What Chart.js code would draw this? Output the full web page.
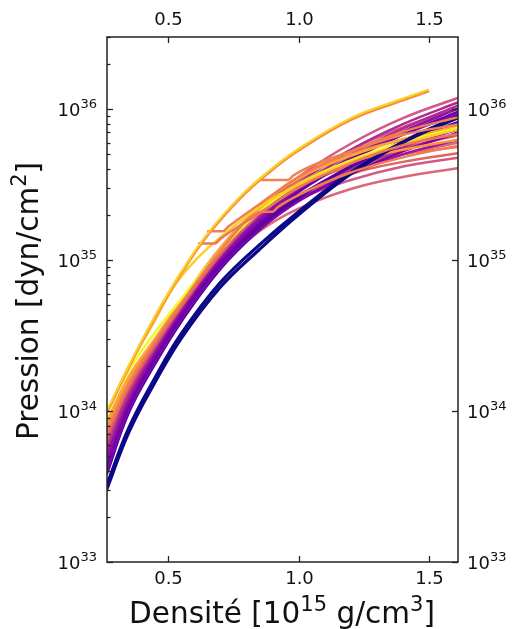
<!DOCTYPE html>
<html>
<head>
<meta charset="utf-8">
<script src="https://cdn.jsdelivr.net/npm/chart.js@4.4.1/dist/chart.umd.min.js"></script>
<style>
  html, body { margin: 0; padding: 0; background: #fff; }
  #wrap { width: 512px; height: 629px; }
</style>
</head>
<body>
<div id="wrap"><canvas id="eos" width="512" height="629"></canvas></div>
<script>
// densite en 10^15 g/cm3 ; pression en log10(dyn/cm2)
const density = [0.265, 0.35, 0.45, 0.55, 0.70, 0.85, 1.00, 1.20, 1.40, 1.62];

const navyCurves = [
    [33.48, 33.86, 34.19, 34.48, 34.82, 35.07, 35.30, 35.57, 35.78, 35.96],
    [33.51, 33.89, 34.22, 34.51, 34.85, 35.10, 35.32, 35.58, 35.78, 35.95]
];
const darkPurpleCurves = [
    [33.58, 33.99, 34.31, 34.59, 34.94, 35.20, 35.41, 35.62, 35.79, 35.96],
    [33.61, 34.01, 34.33, 34.61, 34.96, 35.22, 35.42, 35.62, 35.78, 35.92],
    [33.63, 34.03, 34.35, 34.63, 34.98, 35.24, 35.45, 35.66, 35.83, 35.99],
    [33.60, 34.00, 34.32, 34.60, 34.95, 35.20, 35.39, 35.57, 35.72, 35.85]
];
const purpleCurves = [
    [33.65, 34.04, 34.35, 34.63, 34.98, 35.25, 35.46, 35.68, 35.85, 36.01],
    [33.68, 34.05, 34.36, 34.63, 34.97, 35.23, 35.42, 35.61, 35.75, 35.87],
    [33.70, 34.07, 34.38, 34.65, 35.00, 35.27, 35.47, 35.67, 35.83, 35.97],
    [33.64, 34.03, 34.34, 34.62, 34.96, 35.21, 35.40, 35.57, 35.70, 35.80]
];
const magentaCurves = [
    [33.72, 34.09, 34.39, 34.65, 35.00, 35.27, 35.49, 35.70, 35.87, 36.03],
    [33.70, 34.07, 34.37, 34.63, 34.97, 35.23, 35.42, 35.60, 35.73, 35.84],
    [33.75, 34.11, 34.40, 34.66, 35.01, 35.29, 35.51, 35.73, 35.90, 36.05]
];
const pinkCurves = [
    [33.78, 34.13, 34.42, 34.68, 35.03, 35.32, 35.55, 35.77, 35.94, 36.08],
    [33.76, 34.12, 34.41, 34.66, 35.00, 35.25, 35.43, 35.59, 35.70, 35.78],
    [33.80, 34.14, 34.43, 34.68, 35.01, 35.24, 35.40, 35.53, 35.62, 35.68],
    [33.74, 34.10, 34.39, 34.64, 34.96, 35.19, 35.34, 35.47, 35.55, 35.61],
    [33.82, 34.16, 34.44, 34.69, 35.04, 35.32, 35.53, 35.73, 35.88, 36.01],
    [33.77, 34.12, 34.41, 34.66, 35.01, 35.27, 35.47, 35.65, 35.78, 35.90]
];
const coralCurves = [
    [33.84, 34.17, 34.45, 34.70, 35.05, 35.31, 35.48, 35.63, 35.74, 35.83],
    [33.86, 34.19, 34.46, 34.71, 35.06, 35.32, 35.49, 35.62, 35.70, 35.75],
    [33.83, 34.16, 34.44, 34.69, 35.03, 35.27, 35.43, 35.57, 35.65, 35.71]
];
const orangeCurves = [
    [33.88, 34.20, 34.47, 34.72, 35.08, 35.35, 35.55, 35.70, 35.80, 35.88],
    [33.90, 34.21, 34.47, 34.72, 35.07, 35.33, 35.51, 35.65, 35.73, 35.80],
    [33.93, 34.23, 34.48, 34.73, 35.08, 35.35, 35.54, 35.69, 35.80, 35.89]
];
// courbe jaune vif, proche de la courbe rigide a basse densite
const brightYellow = [33.98, 34.27, 34.52, 34.74, 35.06, 35.32, 35.50, 35.66, 35.78, 35.88];
// courbe jaune qui quitte la courbe rigide vers 0.5
const yellowDensity = [0.265, 0.35, 0.45, 0.52, 0.60, 0.70, 0.85, 1.00, 1.20, 1.40, 1.62];
const yellowPress   = [33.99, 34.30, 34.60, 34.82, 34.99, 35.15, 35.35, 35.50, 35.65, 35.77, 35.87];

// courbe la plus rigide (s'arrete a 1.5)
const stiffDensity = [0.265, 0.373, 0.45, 0.546, 0.649, 0.776, 0.879, 0.994, 1.20, 1.40, 1.50];
const stiffYellow  = [34.00, 34.38, 34.63, 34.91, 35.17, 35.42, 35.58, 35.73, 35.94, 36.07, 36.13];
const stiffOrange  = [33.99, 34.37, 34.62, 34.90, 35.16, 35.41, 35.57, 35.72, 35.93, 36.06, 36.12];

// branches avec transition de phase : elles quittent la courbe rigide par un plateau
const pt1Density = [0.85, 0.96, 0.98, 1.20, 1.40, 1.62];
const pt1Press   = [35.53, 35.53, 35.56, 35.72, 35.83, 35.90];
const pt2Density = [0.265, 0.35, 0.45, 0.55, 0.70, 0.864, 0.90, 0.92, 1.00, 1.20, 1.40, 1.62];
const pt2Press   = [33.86, 34.18, 34.46, 34.71, 35.06, 35.32, 35.32, 35.35, 35.43, 35.58, 35.68, 35.76];
const pt3Density = [0.65, 0.71, 0.73, 0.85, 1.00, 1.20, 1.40, 1.62];
const pt3Press   = [35.19, 35.19, 35.22, 35.37, 35.55, 35.72, 35.85, 35.95];
const pt4Density = [0.615, 0.68, 0.70, 0.85, 1.00, 1.20, 1.40, 1.62];
const pt4Press   = [35.11, 35.11, 35.14, 35.31, 35.48, 35.64, 35.76, 35.84];

const xTicks = [0.5, 1.0, 1.5];
const xTickLabels = ['0.5', '1.0', '1.5'];
const yTickExp = [33, 34, 35, 36];

const FONT = '"DejaVu Sans", "Liberation Sans", sans-serif';

function makeSet(xs, logs, color, width, flat) {
    const set = {
        data: xs.map((d, i) => ({ x: d, y: Math.pow(10, logs[i]) })),
        borderColor: color,
        borderWidth: width,
        pointRadius: 0,
        fill: false,
        clip: 0,
        tension: 0.4
    };
    // les plateaux restent plats avec l'interpolation monotone
    if (flat) set.cubicInterpolationMode = 'monotone';
    return set;
}

// ordre de trace : du fond vers le dessus
const layers = [];
const pinkCols = ['rgba(204,71,120,0.9)', 'rgba(216,87,107,0.9)'];
pinkCurves.forEach((c, i) => layers.push(makeSet(density, c, pinkCols[i % 2], 2.5)));
coralCurves.forEach((c, i) => layers.push(makeSet(density, c, i % 2 ? '#e97158' : '#e16462', 2.5)));
magentaCurves.forEach((c, i) => layers.push(makeSet(density, c, i % 2 ? '#bd3786' : '#b12a90', 2.5)));
purpleCurves.forEach((c, i) => layers.push(makeSet(density, c, i % 2 ? '#9c179e' : '#8f0da4', 2.5)));
darkPurpleCurves.forEach((c, i) => layers.push(makeSet(density, c, ['#41049d', '#5302a3', '#6a00a8', '#7e03a8'][i], 2.5)));
orangeCurves.forEach((c, i) => layers.push(makeSet(density, c, ['#f2844b', '#f89540', '#fca636'][i], 2.5)));
layers.push(makeSet(density, brightYellow, '#f0f921', 2.5));
layers.push(makeSet(yellowDensity, yellowPress, '#fcce25', 2.5));
navyCurves.forEach(c => layers.push(makeSet(density, c, '#0d0887', 3.2)));
layers.push(makeSet(pt2Density, pt2Press, '#ee7d50', 2.5, true));
layers.push(makeSet(pt1Density, pt1Press, '#ef8250', 2.5, true));
layers.push(makeSet(pt3Density, pt3Press, '#ee7d50', 2.5, true));
layers.push(makeSet(pt4Density, pt4Press, '#ec7853', 2.5, true));
layers.push(makeSet(stiffDensity, stiffOrange, '#f68f44', 3));
layers.push(makeSet(stiffDensity, stiffYellow, '#fcd225', 2));

// texte avec exposants
function drawRich(ctx, parts, x, y, align, size) {
    const sup = Math.round(size * 0.7);
    let w = 0;
    parts.forEach(([t, s]) => { ctx.font = (s ? sup : size) + 'px ' + FONT; w += ctx.measureText(t).width; });
    let cx = align === 'left' ? x : (align === 'right' ? x - w : x - w / 2);
    ctx.textAlign = 'left';
    ctx.textBaseline = 'alphabetic';
    parts.forEach(([t, s]) => {
        ctx.font = (s ? sup : size) + 'px ' + FONT;
        ctx.fillText(t, cx, s ? y - size * 0.4 : y);
        cx += ctx.measureText(t).width;
    });
}

const axesPlugin = {
    id: 'axesPlugin',
    afterDraw(chart) {
        const { ctx, chartArea: a } = chart;
        const xs = chart.scales.x, ys = chart.scales.y;
        const seg = (x1, y1, x2, y2) => { ctx.beginPath(); ctx.moveTo(x1, y1); ctx.lineTo(x2, y2); ctx.stroke(); };
        ctx.save();
        ctx.strokeStyle = '#222';
        ctx.fillStyle = '#111';
        ctx.lineWidth = 1.5;
        ctx.strokeRect(a.left, a.top, a.right - a.left, a.bottom - a.top);

        ctx.lineWidth = 1.3;
        xTicks.forEach((v, i) => {
            const px = Math.round(xs.getPixelForValue(v)) + 0.5;
            seg(px, a.bottom, px, a.bottom - 6);
            seg(px, a.top, px, a.top + 6);
            ctx.font = '18px ' + FONT;
            ctx.textAlign = 'center';
            ctx.textBaseline = 'middle';
            ctx.fillText(xTickLabels[i], px, a.bottom + 17);
            ctx.fillText(xTickLabels[i], px, a.top - 17);
        });

        yTickExp.forEach(e => {
            const py = Math.round(ys.getPixelForValue(Math.pow(10, e))) + 0.5;
            seg(a.left, py, a.left + 6, py);
            seg(a.right, py, a.right - 6, py);
            for (let m = 2; m <= 9; m++) {
                const v = m * Math.pow(10, e);
                if (v > ys.max) break;
                const pm = Math.round(ys.getPixelForValue(v)) + 0.5;
                seg(a.left, pm, a.left + 3.5, pm);
            }
            drawRich(ctx, [['10', false], [String(e), true]], a.left - 10, py + 6, 'right', 18);
            drawRich(ctx, [['10', false], [String(e), true]], a.right + 9, py + 6, 'left', 18);
        });

        drawRich(ctx, [['Densit\u00e9 [10', false], ['15', true], [' g/cm', false], ['3', true], [']', false]],
            282, 623, 'center', 29.5);

        ctx.translate(38, 301);
        ctx.rotate(-Math.PI / 2);
        drawRich(ctx, [['Pression [dyn/cm', false], ['2', true], [']', false]], 0, 0, 'center', 29.5);
        ctx.restore();
    }
};

new Chart(document.getElementById('eos'), {
    type: 'line',
    data: { datasets: layers.reverse() },
    options: {
        responsive: false,
        animation: false,
        layout: { padding: { left: 107, right: 54, top: 37, bottom: 67 } },
        plugins: { legend: { display: false }, tooltip: { enabled: false } },
        scales: {
            x: { type: 'linear', min: 0.266, max: 1.611, display: false },
            y: { type: 'logarithmic', min: 1e33, max: 3e36, display: false }
        }
    },
    plugins: [axesPlugin]
});
</script>
</body>
</html>
